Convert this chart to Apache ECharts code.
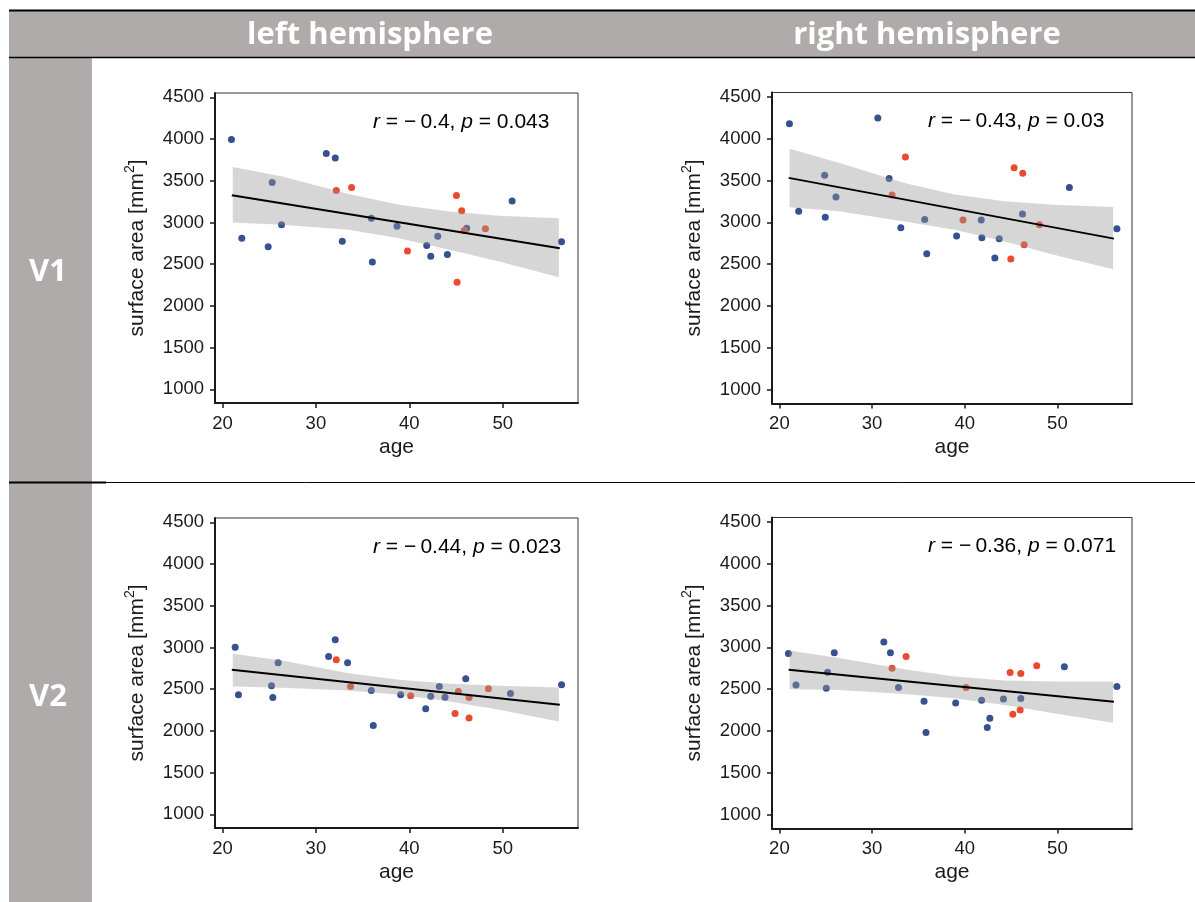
<!DOCTYPE html>
<html>
<head>
<meta charset="utf-8">
<script src="https://cdn.jsdelivr.net/npm/echarts@6/dist/echarts.min.js"></script>
<style>
html, body { margin: 0; padding: 0; background: #fff; }
#chart { width: 1195px; height: 902px; }
</style>
</head>
<body>
<div id="chart"></div>
<script>
// values
const xTicks = [20, 30, 40, 50];
const yTicks = [1000, 1500, 2000, 2500, 3000, 3500, 4000, 4500];
const ribbonAge = [21.1, 26.4, 33.5, 38.9, 44.3, 49.6, 56.0];
const fitAge = [21.0, 56.1];

// V1, left hemisphere
const v1LeftBlueAge = [20.96, 22.07, 24.89, 25.32, 26.32, 31.11, 32.07, 32.82, 35.93, 36.04, 38.68, 41.86, 42.29, 43.04, 44.07, 46.14, 51.0, 56.29];
const v1LeftBlueArea = [3996, 2810, 2710, 3480, 2972, 3826, 3772, 2774, 3052, 2526, 2956, 2724, 2596, 2836, 2616, 2932, 3256, 2768];
const v1LeftRedAge = [32.18, 33.82, 39.8, 45.04, 45.6, 45.87, 45.11, 48.14];
const v1LeftRedArea = [3382, 3420, 2658, 3324, 3142, 2904, 2284, 2926];
const v1LeftFit = [3326, 2690];
const v1LeftUpper = [3664, 3552, 3340, 3212, 3132, 3080, 3052];
const v1LeftLower = [3000, 2972, 2912, 2812, 2672, 2532, 2344];

// V1, right hemisphere
const v1RightBlueAge = [21.08, 22.08, 24.88, 24.95, 26.1, 30.62, 31.84, 33.1, 35.68, 35.9, 39.12, 41.78, 41.85, 43.25, 43.72, 46.23, 51.29, 56.42];
const v1RightBlueArea = [4180, 3132, 3564, 3060, 3304, 4248, 3524, 2936, 3036, 2624, 2836, 3028, 2816, 2576, 2804, 3100, 3416, 2924];
const v1RightRedAge = [32.16, 33.6, 39.81, 44.97, 45.33, 46.26, 46.41, 48.06];
const v1RightRedArea = [3328, 3780, 3028, 2564, 3652, 3588, 2732, 2972];
const v1RightFit = [3532, 2806];
const v1RightUpper = [3880, 3712, 3472, 3332, 3252, 3212, 3184];
const v1RightLower = [3180, 3132, 3012, 2912, 2772, 2612, 2440];

// V2, left hemisphere
const v2LeftBlueAge = [21.36, 21.71, 25.25, 25.39, 25.96, 31.36, 32.07, 33.39, 35.93, 36.14, 39.07, 41.75, 42.29, 43.21, 43.82, 46.04, 50.82, 56.29];
const v2LeftBlueArea = [3004, 2432, 2540, 2400, 2816, 2892, 3092, 2816, 2484, 2064, 2432, 2264, 2416, 2532, 2404, 2624, 2448, 2552];
const v2LeftRedAge = [32.18, 33.71, 40.14, 44.89, 45.25, 46.39, 46.39, 48.46];
const v2LeftRedArea = [2852, 2532, 2420, 2208, 2472, 2400, 2156, 2504];
const v2LeftFit = [2732, 2312];
const v2LeftUpper = [2924, 2844, 2692, 2612, 2564, 2540, 2520];
const v2LeftLower = [2532, 2516, 2484, 2432, 2352, 2252, 2112];

// V2, right hemisphere
const v2RightBlueAge = [20.97, 21.79, 25.06, 25.2, 25.92, 31.27, 31.98, 32.85, 35.61, 35.82, 39.02, 41.82, 42.43, 42.71, 44.18, 46.05, 50.75, 56.42];
const v2RightBlueArea = [2928, 2552, 2512, 2704, 2936, 3064, 2936, 2520, 2356, 1984, 2336, 2368, 2044, 2152, 2384, 2388, 2768, 2532];
const v2RightRedAge = [32.16, 33.67, 40.13, 44.9, 45.19, 45.98, 46.05, 47.77];
const v2RightRedArea = [2752, 2892, 2520, 2700, 2200, 2252, 2688, 2780];
const v2RightFit = [2732, 2350];
const v2RightUpper = [2964, 2872, 2740, 2652, 2604, 2592, 2592];
const v2RightLower = [2500, 2492, 2444, 2392, 2312, 2212, 2100];

const statLabels = [
    ['−\u20090.4', '0.043'],
    ['−\u20090.43', '0.03'],
    ['−\u20090.44', '0.023'],
    ['−\u20090.36', '0.071']
];

const panels = [
    { blueAge: v1LeftBlueAge, blueArea: v1LeftBlueArea, redAge: v1LeftRedAge, redArea: v1LeftRedArea, fit: v1LeftFit, upper: v1LeftUpper, lower: v1LeftLower },
    { blueAge: v1RightBlueAge, blueArea: v1RightBlueArea, redAge: v1RightRedAge, redArea: v1RightRedArea, fit: v1RightFit, upper: v1RightUpper, lower: v1RightLower },
    { blueAge: v2LeftBlueAge, blueArea: v2LeftBlueArea, redAge: v2LeftRedAge, redArea: v2LeftRedArea, fit: v2LeftFit, upper: v2LeftUpper, lower: v2LeftLower },
    { blueAge: v2RightBlueAge, blueArea: v2RightBlueArea, redAge: v2RightRedAge, redArea: v2RightRedArea, fit: v2RightFit, upper: v2RightUpper, lower: v2RightLower }
];

const gridPos = [
    { left: 215, top: 93, width: 363, height: 310 },
    { left: 772, top: 92.5, width: 360, height: 311 },
    { left: 215, top: 518, width: 363, height: 310 },
    { left: 772, top: 517.5, width: 360, height: 311 }
];

const BLUE = '#36518f';
const RED = '#ea4a2e';
const HEAD = '#afabaa';
const FONT = '"Liberation Sans", Arial, sans-serif';
const HEADFONT = '"Open Sans", sans-serif';
const INK = '#1a1a1a';

const chart = echarts.init(document.getElementById('chart'), null, { renderer: 'canvas' });

let grids = [], xAxes = [], yAxes = [], series = [], graphics = [];

const headText = (x, y, text) => ({
    type: 'text', x: x, y: y,
    style: { text: text, fill: '#fff', fontSize: 31, fontWeight: 'bold', fontFamily: HEADFONT, align: 'center', verticalAlign: 'middle' }
});

// table frame
graphics.push(
    { type: 'rect', shape: { x: 9, y: 11, width: 1186, height: 46 }, style: { fill: HEAD }, silent: true },
    { type: 'rect', shape: { x: 9, y: 58, width: 83, height: 844 }, style: { fill: HEAD }, silent: true },
    { type: 'line', shape: { x1: 9, y1: 10.5, x2: 1195, y2: 10.5 }, style: { stroke: '#000', lineWidth: 2 } },
    { type: 'line', shape: { x1: 9, y1: 57.5, x2: 1195, y2: 57.5 }, style: { stroke: '#000', lineWidth: 1.5 } },
    { type: 'line', shape: { x1: 9, y1: 482.5, x2: 1195, y2: 482.5 }, style: { stroke: '#000', lineWidth: 1 } },
    { type: 'line', shape: { x1: 9, y1: 482.5, x2: 106, y2: 482.5 }, style: { stroke: '#000', lineWidth: 2 } },
    headText(370, 35, 'left hemisphere'),
    headText(927, 35, 'right hemisphere'),
    headText(48, 272, 'V1'),
    headText(48, 697, 'V2')
);

panels.forEach((p, i) => {
    const g = gridPos[i];
    grids.push({
        left: g.left, top: g.top, width: g.width, height: g.height,
        show: true, borderColor: '#333', borderWidth: 1, backgroundColor: '#fff'
    });
    xAxes.push({
        type: 'value', gridIndex: i, min: 19.2, max: 58.05,
        splitLine: { show: false },
        axisLine: { show: true, onZero: false, lineStyle: { color: INK, width: 2 } },
        axisTick: { show: true, length: 5, customValues: xTicks, lineStyle: { color: INK, width: 1.5 } },
        axisLabel: { customValues: xTicks, fontSize: 18.5, color: INK, margin: 11, fontFamily: FONT }
    });
    yAxes.push({
        type: 'value', gridIndex: i, min: 836, max: 4552,
        splitLine: { show: false },
        axisLine: { show: true, onZero: false, lineStyle: { color: INK, width: 2 } },
        axisTick: { show: true, length: 5, customValues: yTicks, lineStyle: { color: INK, width: 1.5 } },
        axisLabel: { customValues: yTicks, formatter: v => String(v), fontSize: 18.5, color: INK, margin: 11, fontFamily: FONT }
    });

    series.push({
        type: 'scatter', xAxisIndex: i, yAxisIndex: i, z: 2, symbolSize: 7,
        itemStyle: { color: BLUE, opacity: 1 },
        data: p.blueAge.map((a, k) => [a, p.blueArea[k]])
    });
    series.push({
        type: 'scatter', xAxisIndex: i, yAxisIndex: i, z: 2, symbolSize: 7,
        itemStyle: { color: RED, opacity: 1 },
        data: p.redAge.map((a, k) => [a, p.redArea[k]])
    });
    // confidence band, drawn over the points like geom_smooth does
    series.push({
        type: 'custom', xAxisIndex: i, yAxisIndex: i, z: 3, silent: true,
        data: [[ribbonAge[0], p.upper[0]]],
        renderItem: (params, api) => {
            const pts = [];
            ribbonAge.forEach((a, k) => pts.push(api.coord([a, p.upper[k]])));
            for (let k = ribbonAge.length - 1; k >= 0; k--) pts.push(api.coord([ribbonAge[k], p.lower[k]]));
            return { type: 'polygon', shape: { points: pts }, style: { fill: 'rgba(153,153,153,0.4)' } };
        }
    });
    series.push({
        type: 'line', xAxisIndex: i, yAxisIndex: i, z: 4, showSymbol: false, silent: true,
        lineStyle: { color: '#000', width: 2 },
        data: fitAge.map((a, k) => [a, p.fit[k]])
    });

    // axis titles and stats label
    graphics.push(
        { type: 'text', x: g.left - 78, y: g.top + g.height / 2, rotation: Math.PI / 2,
          style: {
              text: '{n|surface area [mm}{s|2}{n|]}', align: 'center', verticalAlign: 'middle',
              rich: {
                  n: { fontSize: 21, fontFamily: FONT, fill: INK, lineHeight: 28 },
                  s: { fontSize: 14, fontFamily: FONT, fill: INK, lineHeight: 14, verticalAlign: 'top' }
              }
          } },
        { type: 'text', x: g.left + g.width / 2, y: g.top + g.height + 44,
          style: { text: 'age', fontSize: 21, fontFamily: FONT, fill: INK, align: 'center', verticalAlign: 'middle' } },
        { type: 'text', x: i % 2 === 0 ? 373 : 928, y: g.top + 29,
          style: {
              text: '{i|r} = ' + statLabels[i][0] + ', {i|p} = ' + statLabels[i][1],
              fontSize: 21, fontFamily: FONT, fill: '#000', align: 'left', verticalAlign: 'middle',
              rich: { i: { fontStyle: 'italic', fontSize: 21, fontFamily: FONT, fill: '#000' } }
          } }
    );
});

chart.setOption({
    animation: false,
    backgroundColor: '#fff',
    grid: grids,
    xAxis: xAxes,
    yAxis: yAxes,
    series: series,
    graphic: graphics
});
</script>
</body>
</html>
